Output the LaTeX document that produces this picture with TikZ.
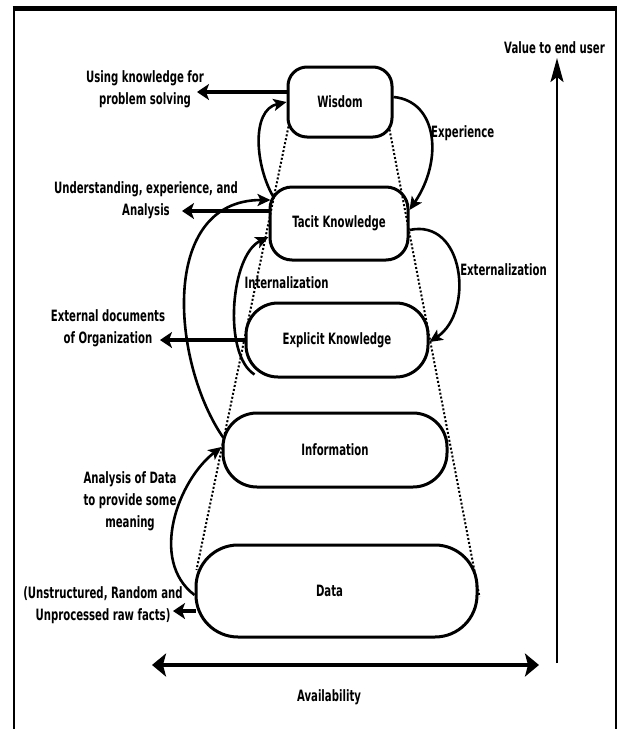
\documentclass[tikz,border=0pt]{standalone}
\usepackage{fontspec}
\setmainfont{DejaVu Sans}[FakeStretch=0.65]
\usetikzlibrary{arrows.meta,calc}
\newcommand\diagfont{\bfseries\fontsize{15.6}{22}\selectfont}
\begin{document}
\begin{tikzpicture}[x=1pt,y=-1pt,
  box/.style={draw, line width=3pt, align=center, inner sep=0pt, font=\diagfont},
  lbl/.style={align=center, inner sep=0pt, font=\diagfont},
  harrow/.style={line width=3.2pt, -{Stealth[length=12pt,width=16pt,inset=3pt]}},
  carrow/.style={line width=2.6pt, -{Stealth[length=13pt,width=12pt,inset=3pt]}},
  dotline/.style={line width=2pt, dash pattern=on 2pt off 2pt}]
\useasboundingbox (0,0) rectangle (618,729);
% frame
\draw[line width=2.7pt] (14,729) -- (14,8.5);
\draw[line width=2.7pt] (616,8.5) -- (616,729);
\draw[line width=4.5pt] (12.65,8.5) -- (617.35,8.5);
% nodes
\node[box, minimum width=104pt, minimum height=70pt, rounded corners=19pt] (wis) at (340,102) {Wisdom};
\node[box, minimum width=138pt, minimum height=73pt, rounded corners=22pt] (tac) at (339,223.5) {Tacit Knowledge};
\node[box, minimum width=182pt, minimum height=74pt, rounded corners=32pt] (exp) at (337,340) {Explicit Knowledge};
\node[box, minimum width=224pt, minimum height=74pt, rounded corners=34pt] (inf) at (335,450) {Information};
\node[box, minimum width=281pt, minimum height=92pt, rounded corners=42pt] (dat) at (336.5,591) {\hspace*{-14pt}Data};
% labels
\node[lbl] (lwis) at (145,89) {Using knowledge for\\problem solving};
\node[lbl] (ltac) at (146,200) {Understanding, experience, and\\Analysis};
\node[lbl] (lexp) at (108,328.5) {External documents\\of Organization};
\node[lbl] (ldat) at (103,605) {(Unstructured, Random and\\Unprocessed raw facts)};
\node[lbl] (lana) at (130,501.5) {Analysis of Data\\to provide some\\meaning};
\node[lbl, anchor=west] (lexc) at (431,133) {Experience};
\node[lbl] (lext) at (503.5,270) {Externalization};
\node[lbl] (lint) at (286.5,283) {Internalization};
\node[lbl] (lval) at (554.5,48) {Value to end user};
\node[lbl] (lav) at (329,697) {Availability};
% free ends
\coordinate (twis) at (197,92);
\coordinate (ttac) at (182,211);
\coordinate (texp) at (160,340);
\coordinate (tdat) at (173,611);
\coordinate (avl) at (152,665);
\coordinate (avr) at (539,665);
\coordinate (vb) at (557,663);
\coordinate (vt) at (557,58);
% dotted pyramid
\draw[dotline] ([xshift=2pt,yshift=12pt]wis.south west) -- ([xshift=2pt,yshift=21pt]dat.west);
\draw[dotline] ([xshift=-4pt,yshift=9pt]wis.south east) -- ([xshift=1pt,yshift=-6pt]dat.east);
% left arrows
\draw[harrow] ([yshift=10pt]wis.west) -- (twis);
\draw[harrow] ([yshift=12.5pt]tac.west) -- (ttac);
\draw[harrow] (exp.west) -- (texp);
\draw[harrow] ([xshift=1pt,yshift=-20pt]dat.west) -- (tdat);
% curved arrows
\draw[carrow] ([xshift=5pt,yshift=26.5pt]tac.west) .. controls +(-18,-30) and +(-36,8) .. (wis.west);
\draw[carrow] ([yshift=5pt]wis.east) .. controls +(44,4) and +(34,-50) .. ([yshift=13.5pt]tac.east);
\draw[carrow] ([yshift=-6.5pt]tac.east) .. controls +(55,-12) and +(45,-30) .. ([yshift=-2pt]exp.east);
\draw[carrow] ([xshift=10pt,yshift=4pt]exp.south west) .. controls +(-32,-20) and +(-38,18) .. ([yshift=-13.5pt]tac.west);
\draw[carrow] ([xshift=2pt,yshift=12pt]inf.west) .. controls +(-52,-75) and +(-112,0) .. ([xshift=2pt,yshift=23.5pt]tac.west);
\draw[carrow] ([yshift=-4pt]dat.west) .. controls +(-46,-35) and +(-43,33) .. ([yshift=3pt]inf.west);
% axes
\draw[line width=3.2pt, {Stealth[length=14pt,width=23pt,inset=3pt]}-{Stealth[length=14pt,width=23pt,inset=3pt]}] (avl) -- (avr);
\draw[line width=2.4pt, -{Stealth[length=24pt,width=13pt,inset=5pt]}] (vb) -- (vt);
\end{tikzpicture}
\end{document}
